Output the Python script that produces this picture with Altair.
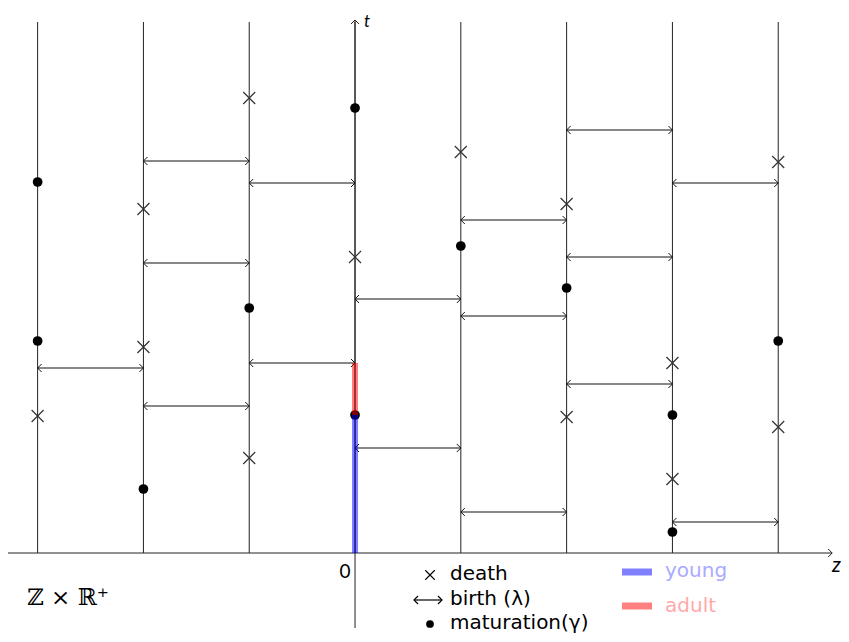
import altair as alt
import pandas as pd

# ---------------- data (z = site, t = time) ----------------
lines_z = [-3, -2, -1, 0, 1, 2, 3, 4]
line_top = 5.31

death_z = [-3, -2, -2, -1, -1, 0, 1, 2, 2, 3, 3, 4, 4]
death_t = [1.37, 3.44, 2.06, 4.55, 0.95, 2.96, 4.01, 3.49, 1.36, 1.90, 0.74, 3.91, 1.26]

mat_z = [-3, -3, -2, -1, 0, 0, 1, 2, 3, 3, 4]
mat_t = [3.71, 2.12, 0.64, 2.45, 4.45, 1.38, 3.07, 2.65, 1.38, 0.21, 2.12]

birth_z = [-3, -2, -2, -2, -1, -1, 0, 0, 1, 1, 1, 2, 2, 2, 3, 3]
birth_t = [1.85, 3.92, 2.90, 1.47, 3.70, 1.90, 2.54, 1.05, 3.33, 2.37, 0.41,
           4.23, 2.96, 1.69, 3.70, 0.31]

phase_name = ["young", "adult"]
phase_t0 = [0.0, 1.38]
phase_t1 = [1.38, 1.90]
phase_z = [0, 0]
phase_color = ["#0000ff", "#ff0000"]

z_axis = [-3.28, 4.51]
t_axis = [-0.75, 5.33]

legend_labels = ["death", "birth (\u03bb)", "maturation(\u03b3)"]
phase_labels = ["young", "adult"]

# ---------------- frames ----------------
lines_df = pd.DataFrame({"z": lines_z, "t0": 0.0, "t1": line_top})
death_df = pd.DataFrame({"z": death_z, "t": death_t})
mat_df = pd.DataFrame({"z": mat_z, "t": mat_t})
birth_df = pd.DataFrame({"z0": birth_z, "z1": [z + 1 for z in birth_z], "t": birth_t})
phase_df = pd.DataFrame({"name": phase_name, "z": phase_z, "t0": phase_t0,
                         "t1": phase_t1, "c": phase_color})
zaxis_df = pd.DataFrame({"z0": [z_axis[0]], "z1": [z_axis[1]], "t": [0.0]})
taxis_df = pd.DataFrame({"z": [0.0], "t0": [t_axis[0]], "t1": [t_axis[1]]})

W, H = 833, 626
xs = alt.Scale(domain=[-3.280, -3.280 + W / 105.8], nice=False, zero=False)
ys = alt.Scale(domain=[5.45 - H / 100.0, 5.45], nice=False, zero=False)

def X(f):
    return alt.X(f, type="quantitative", scale=xs, axis=None)

def Y(f):
    return alt.Y(f, type="quantitative", scale=ys, axis=None)

RIGHT = "M-1,-1L0,0L-1,1"
LEFT = "M1,-1L0,0L1,1"
UP = "M-1,1L0,0L1,1"
CROSS = "M-1,-1L1,1M1,-1L-1,1"

vlines = alt.Chart(lines_df).mark_rule(color="#222", strokeWidth=1).encode(
    x=X("z"), y=Y("t0"), y2="t1")

zax = alt.Chart(zaxis_df).mark_rule(color="#222", strokeWidth=1).encode(
    x=X("z0"), x2="z1", y=Y("t"))
zax_head = alt.Chart(zaxis_df).mark_point(shape=RIGHT, size=64, filled=False,
                                          color="#222", strokeWidth=1, opacity=1).encode(
    x=X("z1"), y=Y("t"))
tax = alt.Chart(taxis_df).mark_rule(color="#222", strokeWidth=1).encode(
    x=X("z"), y=Y("t0"), y2="t1")
tax_head = alt.Chart(taxis_df).mark_point(shape=UP, size=64, filled=False,
                                          color="#222", strokeWidth=1, opacity=1).encode(
    x=X("z"), y=Y("t1"))

births = alt.Chart(birth_df).mark_rule(color="#111", strokeWidth=1).encode(
    x=X("z0"), x2="z1", y=Y("t"))
b_left = alt.Chart(birth_df).mark_point(shape=LEFT, size=64, filled=False,
                                        color="#111", strokeWidth=1, opacity=1).encode(
    x=X("z0"), y=Y("t"))
b_right = alt.Chart(birth_df).mark_point(shape=RIGHT, size=64, filled=False,
                                         color="#111", strokeWidth=1, opacity=1).encode(
    x=X("z1"), y=Y("t"))

deaths = alt.Chart(death_df).mark_point(shape=CROSS, size=144, filled=False,
                                        color="#333", strokeWidth=1.2, opacity=1).encode(
    x=X("z"), y=Y("t"))
mats = alt.Chart(mat_df).mark_point(shape="circle", size=95, filled=True,
                                    color="#000", opacity=1).encode(
    x=X("z"), y=Y("t"))

phases = alt.Chart(phase_df).mark_rule(strokeWidth=6, opacity=0.5).encode(
    x=X("z"), y=Y("t0"), y2="t1",
    color=alt.Color("c:N", scale=None, legend=None))

FONT = "DejaVu Sans"

def txt(text, x, y, size=20, align="left", baseline="alphabetic", color="#000",
        style="normal", font=FONT):
    return alt.Chart(pd.DataFrame({"s": [text]})).mark_text(
        align=align, baseline=baseline, fontSize=size, color=color,
        fontStyle=style, font=font).encode(
        text="s:N", x=alt.value(x), y=alt.value(y))

texts = [
    txt("t", 356, 19, 17, style="italic", font="Lato"),
    txt("z", 824, 564, 21, style="italic", font="Lato"),
    txt("0", 337, 564, 19, align="center", baseline="middle", font="Lato"),
    txt("\u2124 \u00d7 \u211d\u207a", 19, 590, 23, baseline="middle",
        font="DejaVu Serif"),
    txt(legend_labels[0], 442, 572, 20),
    txt(legend_labels[1], 442, 597, 20),
    txt(legend_labels[2], 442, 621, 20),
    txt(phase_labels[0], 657, 569, 20, color="#aaaaff"),
    txt(phase_labels[1], 657, 604, 20, color="#ffaaaa"),
]

def pt(shape, x, y, size, filled=False, sw=1.2):
    return alt.Chart(pd.DataFrame({"k": [0]})).mark_point(
        shape=shape, size=size, filled=filled, color="#000", strokeWidth=sw,
        opacity=1).encode(x=alt.value(x), y=alt.value(y))

leg_syms = [
    pt(CROSS, 422, 567, 90, sw=1.1),
    alt.Chart(pd.DataFrame({"k": [0]})).mark_rule(color="#000", strokeWidth=1.2).encode(
        x=alt.value(406), x2=alt.value(434), y=alt.value(592)),
    pt(LEFT, 406, 592, 64),
    pt(RIGHT, 434, 592, 64),
    pt("circle", 422, 616, 60, filled=True),
]

leg_bars = [
    alt.Chart(pd.DataFrame({"c": ["#8080ff"]})).mark_rule(strokeWidth=7).encode(
        x=alt.value(614), x2=alt.value(644), y=alt.value(564),
        color=alt.Color("c:N", scale=None, legend=None)),
    alt.Chart(pd.DataFrame({"c": ["#ff8080"]})).mark_rule(strokeWidth=7).encode(
        x=alt.value(614), x2=alt.value(644), y=alt.value(598),
        color=alt.Color("c:N", scale=None, legend=None)),
]

chart = alt.layer(
    vlines, zax, zax_head, tax, tax_head, births, b_left, b_right,
    deaths, mats, phases, *leg_bars, *leg_syms, *texts
).properties(
    width=W, height=H, padding=0,
    autosize=alt.AutoSizeParams(type="none")
).configure_view(stroke=None)

chart.save("out.html", embed_options={"renderer": "svg", "actions": False})
